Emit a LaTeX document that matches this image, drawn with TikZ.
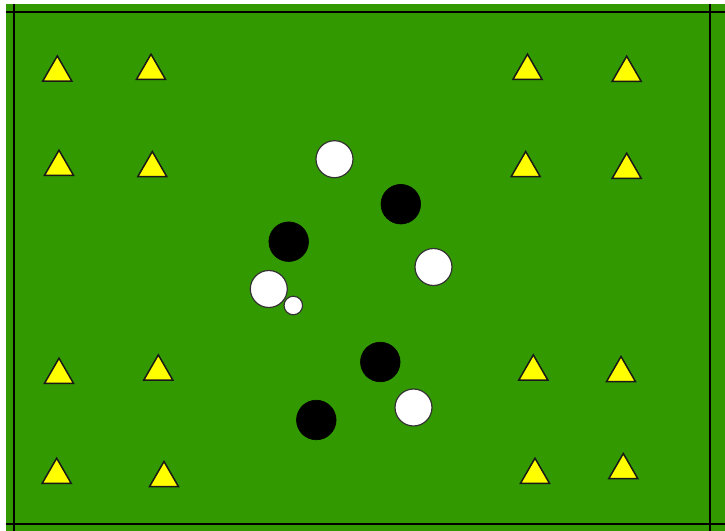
\documentclass[tikz,border=0pt]{standalone}
\usetikzlibrary{shapes.geometric}
\definecolor{pitch}{HTML}{339900}
\definecolor{coneyellow}{HTML}{FFFF00}
\tikzset{
  cone/.style={regular polygon, regular polygon sides=3, minimum size=16.8pt, inner sep=0pt, outer sep=0pt, fill=coneyellow, draw=black!90, line width=0.75pt},
  whiteplayer/.style={circle, minimum size=18.5pt, inner sep=0pt, fill=white, draw=black!80, line width=0.6pt},
  blackplayer/.style={circle, minimum size=19.8pt, inner sep=0pt, fill=black, draw=black, line width=0.3pt},
  ballmark/.style={circle, minimum size=9.3pt, inner sep=0pt, fill=white, draw=black!80, line width=0.6pt},
  fieldline/.style={draw=black, line width=1pt}
}
\begin{document}
\begin{tikzpicture}[x=0.5pt,y=-0.5pt]
\useasboundingbox (0,0) rectangle (725,531);
\fill[white] (0,0) rectangle (725,531);
\fill[pitch] (6,4) rectangle (725,531);
% field lines
\coordinate (lt) at (14,4); \coordinate (lb) at (14,531);
\coordinate (rt) at (710,4); \coordinate (rb) at (710,531);
\coordinate (tl) at (6,12); \coordinate (tr) at (725,12);
\coordinate (bl) at (6,524); \coordinate (br) at (725,524);
\draw[fieldline] (lt) -- (lb);
\draw[fieldline] (rt) -- (rb);
\draw[fieldline] (tl) -- (tr);
\draw[fieldline] (bl) -- (br);
% cones
\node[cone] (t1) at (57.3,72.7) {};
\node[cone] (t2) at (151,71) {};
\node[cone] (t3) at (527.5,71) {};
\node[cone] (t4) at (626.7,73) {};
\node[cone] (t5) at (59,167) {};
\node[cone] (t6) at (152.3,168.3) {};
\node[cone] (t7) at (525.7,168.3) {};
\node[cone] (t8) at (626.7,170) {};
\node[cone] (t9) at (59,375) {};
\node[cone] (t10) at (158.3,371.7) {};
\node[cone] (t11) at (533.3,371.7) {};
\node[cone] (t12) at (621,373.3) {};
\node[cone] (t13) at (56.7,475) {};
\node[cone] (t14) at (164,478.3) {};
\node[cone] (t15) at (535,475) {};
\node[cone] (t16) at (623.3,470.3) {};
% players
\node[whiteplayer] (w1) at (334.5,159.2) {};
\node[blackplayer] (b1) at (400.8,204.2) {};
\node[blackplayer] (b2) at (288.7,241.7) {};
\node[whiteplayer] (w2) at (433.5,267) {};
\node[whiteplayer] (w3) at (268.8,289) {};
\node[ballmark] (ball) at (293.3,305.5) {};
\node[blackplayer] (b3) at (380.3,362) {};
\node[whiteplayer] (w4) at (413.5,407.5) {};
\node[blackplayer] (b4) at (316.3,420) {};
\end{tikzpicture}
\end{document}
